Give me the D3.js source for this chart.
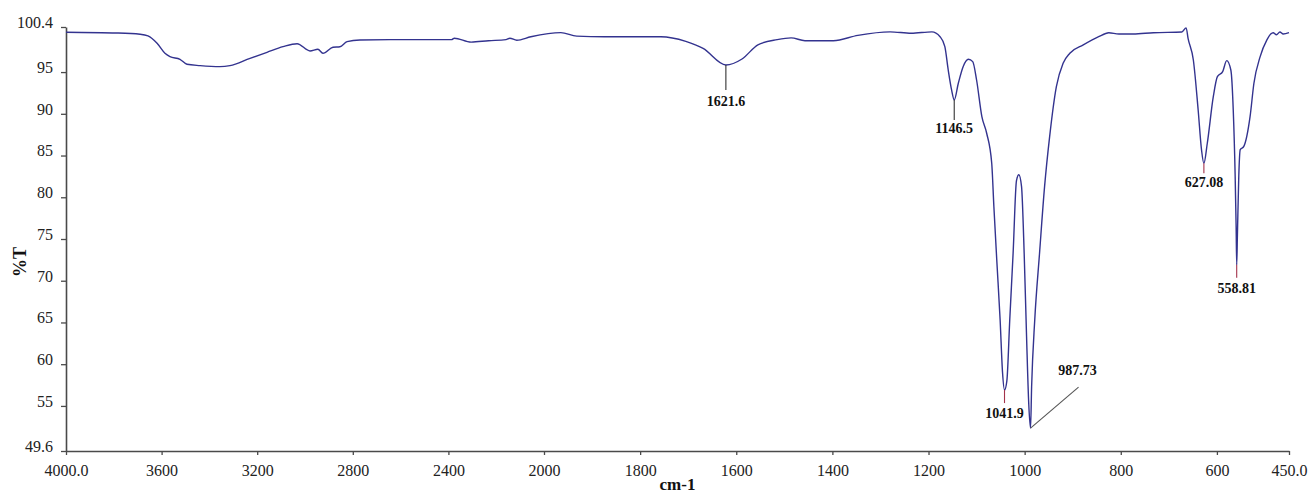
<!DOCTYPE html>
<html>
<head>
<meta charset="utf-8">
<script src="https://cdn.jsdelivr.net/npm/d3@7"></script>
<style>
  html, body { margin: 0; padding: 0; background: #fff; }
  svg { display: block; }
  text { font-family: "Liberation Serif", "Times New Roman", serif; }
</style>
</head>
<body>
<svg id="chart" width="1309" height="495"></svg>
<script>
// ---- data ----
const wavenumbers = [
  4000, 3787, 3690, 3657, 3619, 3586, 3565, 3523, 3494, 3439, 3356, 3314, 3230, 3159, 3092, 3033,
  2979, 2946, 2925, 2883, 2854, 2824, 2770, 2644, 2387, 2375, 2305, 2232, 2159, 2143, 2114, 2055,
  1965, 1932, 1874, 1757, 1705, 1669, 1621.6, 1588, 1555, 1515, 1486, 1457, 1398, 1347, 1280, 1236,
  1193, 1176, 1166, 1159, 1152, 1146.5, 1138, 1128, 1117, 1108, 1100, 1089, 1079, 1068.5, 1064, 1058,
  1051, 1046, 1041.9, 1037, 1031, 1024, 1017, 1012, 1006.5, 1001, 996, 991.5, 987.73, 985.5, 979, 969,
  958.5, 948, 934, 920, 906, 878, 846, 825, 804, 774, 732, 673, 664, 660, 649, 639, 632, 627.08, 620,
  607.5, 599, 588, 579.6, 571, 566, 562, 560, 558.81, 557.5, 554.5, 551.5, 544, 531, 523, 510, 496,
  488, 483, 476, 469, 462, 450
];
const transmittance = [
  99.77, 99.68, 99.53, 99.33, 98.45, 97.25, 96.85, 96.53, 95.93, 95.77, 95.65, 95.77, 96.65, 97.37, 98.04, 98.40,
  97.53, 97.73, 97.25, 97.97, 98.04, 98.64, 98.85, 98.89, 98.89, 99.06, 98.59, 98.76, 98.89, 99.06, 98.81, 99.23,
  99.73, 99.31, 99.23, 99.23, 98.68, 97.84, 95.85, 96.57, 98.26, 98.89, 99.10, 98.76, 98.76, 99.40, 99.82, 99.65,
  99.82, 99.24, 98.04, 95.25, 92.86, 91.66, 93.66, 95.65, 96.53, 96.25, 94.05, 89.66, 87.67, 84.07, 78.87, 72.49,
  65.3, 59.0, 56.9, 58.0, 65.3, 73.3, 82.0, 82.7, 81.3, 73.3, 63.3, 55.3, 52.35, 57.3, 65.3, 73.3,
  81.3, 87.26, 93.25, 96.05, 97.25, 98.25, 99.24, 99.72, 99.56, 99.56, 99.72, 99.80, 100.3, 99.05, 96.45, 90.46, 85.67, 84.07, 86.47,
  92.05, 94.45, 95.05, 96.37, 95.25, 90.46, 82.5, 76.5, 71.9, 75.0, 82.5, 85.7, 86.1, 89.66, 93.66, 96.85, 98.85,
  99.56, 99.72, 99.48, 99.80, 99.56, 99.72
];
const xTickValues = [4000, 3600, 3200, 2800, 2400, 2000, 1800, 1600, 1400, 1200, 1000, 800, 600, 450];
const xTickLabels = ["4000.0", "3600", "3200", "2800", "2400", "2000", "1800", "1600", "1400", "1200", "1000", "800", "600", "450.0"];
const yTickValues = [100.4, 95, 90, 85, 80, 75, 70, 65, 60, 55, 49.6];
const yTickLabels = ["100.4", "95", "90", "85", "80", "75", "70", "65", "60", "55", "49.6"];
const peakLabels = ["1621.6", "1146.5", "1041.9", "987.73", "627.08", "558.81"];
const peakWavenumbers = [1621.6, 1146.5, 1041.9, 987.73, 627.08, 558.81];
const peakTransmittance = [95.85, 91.66, 56.9, 52.35, 84.07, 71.9];
const xTitle = "cm-1";
const yTitle = "%T";

// ---- drawing ----
const svg = d3.select("#chart");
svg.append("rect").attr("width", 1309).attr("height", 495).attr("fill", "#fff");

// instrument-style split scale: compressed above 2000 cm-1
const x = d3.scaleLinear().domain([4000, 2000, 450]).range([66, 544, 1289]);
const y = d3.scaleLinear().domain([49.6, 100.4]).range([451, 27]);

const axisColor = "#4a4a4a";

// x axis
const xAxis = d3.axisBottom(x)
  .tickValues(xTickValues)
  .tickFormat((d, i) => xTickLabels[i])
  .tickSize(4).tickSizeOuter(0).tickPadding(10);
const gx = svg.append("g").attr("transform", "translate(0,451)").call(xAxis);
gx.select(".domain").attr("stroke", axisColor).attr("stroke-width", 1.6);
gx.selectAll(".tick line").attr("stroke", axisColor).attr("stroke-width", 1.3);
gx.selectAll(".tick text").attr("fill", "#222").style("font-size", "16px")
  .style("font-family", "'Liberation Serif', serif");

// y axis
const yAxis = d3.axisLeft(y)
  .tickValues(yTickValues)
  .tickFormat((d, i) => yTickLabels[i])
  .tickSize(5).tickSizeOuter(0).tickPadding(8);
const gy = svg.append("g").attr("transform", "translate(66,0)").call(yAxis);
gy.select(".domain").attr("stroke", axisColor).attr("stroke-width", 1.6);
gy.selectAll(".tick line").attr("stroke", axisColor).attr("stroke-width", 1.3);
gy.selectAll(".tick text").attr("fill", "#222").attr("dy", "0.02em").style("font-size", "16px")
  .style("font-family", "'Liberation Serif', serif");

// axis titles
svg.append("text").attr("x", (x.range()[0] + x.range()[2]) / 2).attr("y", 490)
  .attr("text-anchor", "middle").attr("font-weight", "bold").attr("font-size", 17)
  .attr("fill", "#111").text(xTitle);
svg.append("text").attr("transform", "translate(26,262) rotate(-90)")
  .attr("text-anchor", "middle").attr("font-weight", "bold").attr("font-size", 18)
  .attr("fill", "#111").text(yTitle);

// spectrum
const pts = wavenumbers.map((w, i) => [w, transmittance[i]]);
const line = d3.line().x(d => x(d[0])).y(d => y(d[1])).curve(d3.curveMonotoneX);
svg.append("path").datum(pts).attr("d", line)
  .attr("fill", "none").attr("stroke", "#33338f").attr("stroke-width", 1.4)
  .attr("stroke-linejoin", "round");

// peak annotations: leader style per peak
const leaderStyle = [
  { color: "#333", dx: 0, dy: 25, tdx: 0, tdy: 41 },
  { color: "#333", dx: 0, dy: 20, tdx: 0, tdy: 33 },
  { color: "#a3324a", dx: 0, dy: 13, tdx: 0, tdy: 28 },
  { color: "#555", dx: 48, dy: -41, tdx: 47, tdy: -53 },
  { color: "#a3324a", dx: 0, dy: 10, tdx: 0, tdy: 24 },
  { color: "#a3324a", dx: 0, dy: 13, tdx: 0, tdy: 28 }
];
peakWavenumbers.forEach((w, i) => {
  const px = x(w), py = y(peakTransmittance[i]);
  const s = leaderStyle[i];
  svg.append("line").attr("x1", px).attr("y1", py).attr("x2", px + s.dx).attr("y2", py + s.dy)
    .attr("stroke", s.color).attr("stroke-width", 1.1);
  svg.append("text").attr("x", px + s.tdx).attr("y", py + s.tdy)
    .attr("text-anchor", "middle").attr("font-weight", "bold").attr("font-size", 14)
    .attr("fill", "#111").text(peakLabels[i]);
});
</script>
</body>
</html>
